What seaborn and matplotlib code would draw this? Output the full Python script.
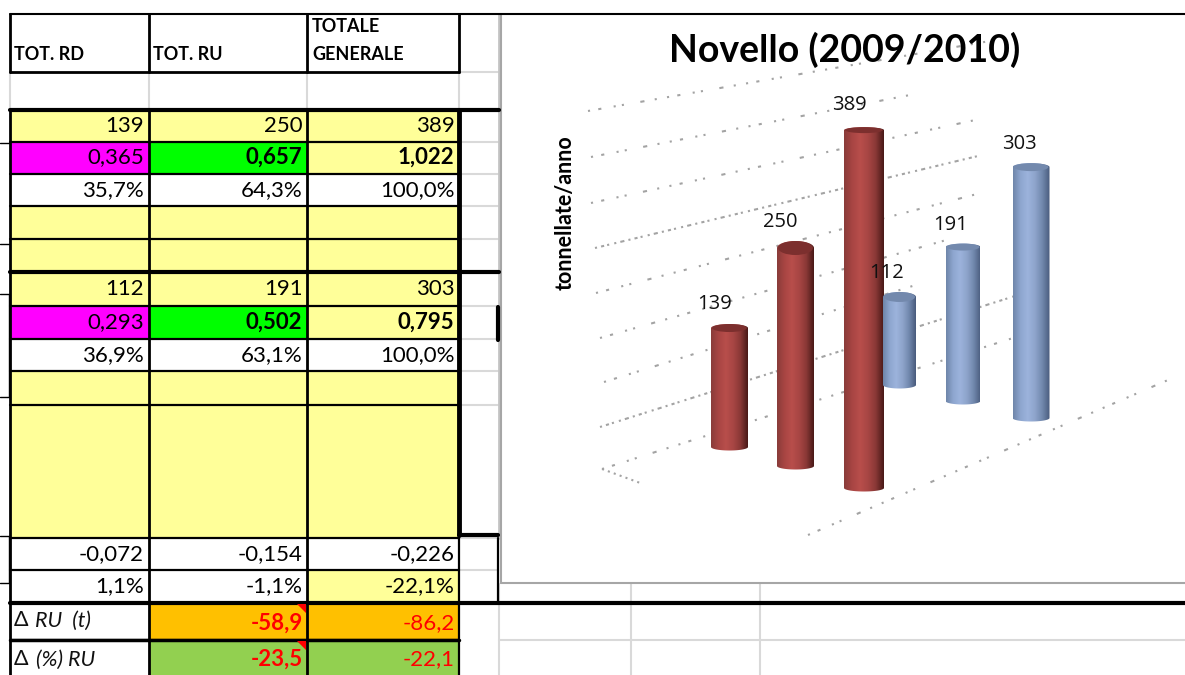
import numpy as np
import pandas as pd
import matplotlib.pyplot as plt
import seaborn as sns
from matplotlib.colors import LinearSegmentedColormap
from matplotlib.patches import Ellipse, Polygon, Rectangle

# Chart values
BAR_LABELS = ['RD 2009', 'RU 2009', 'TOT 2009', 'RD 2010', 'RU 2010', 'TOT 2010']
BAR_VALUES = [139, 250, 389, 112, 191, 303]
BAR_GROUPS = ['red', 'red', 'red', 'blue', 'blue', 'blue']
CHART_TITLE = 'Novello (2009/2010)'
CHART_YLABEL = 'tonnellate/anno'

# Table values, one list per row
ROW_1 = ['139', '250', '389']
ROW_2 = ['0,365', '0,657', '1,022']
ROW_3 = ['35,7%', '64,3%', '100,0%']
ROW_4 = ['', '', '']
ROW_5 = ['', '', '']
ROW_6 = ['112', '191', '303']
ROW_7 = ['0,293', '0,502', '0,795']
ROW_8 = ['36,9%', '63,1%', '100,0%']
ROW_9 = ['', '', '']
ROW_10 = ['', '', '']
ROW_11 = ['-0,072', '-0,154', '-0,226']
ROW_12 = ['1,1%', '-1,1%', '-22,1%']
ROW_13 = ['', '-58,9', '-86,2']
ROW_14 = ['', '-23,5', '-22,1']
ROWS = [ROW_1, ROW_2, ROW_3, ROW_4, ROW_5, ROW_6, ROW_7,
        ROW_8, ROW_9, ROW_10, ROW_11, ROW_12, ROW_13, ROW_14]

# Layout in screen pixels, not data
W, H = 1185, 675
COL_X = [10, 148.5, 307, 459]
ROW_Y = [110, 141.5, 173.5, 206, 239, 272, 305.5, 339, 371, 405, 538, 570, 603, 640, 675]
YEL, MAG, GRN, WHT, ORA, LIM = '#FFFF99', '#FF00FF', '#00FF00', '#FFFFFF', '#FFC000', '#92D050'
ROW_FILLS = [[YEL, YEL, YEL], [MAG, GRN, YEL], [WHT, WHT, WHT], [YEL, YEL, YEL], [YEL, YEL, YEL],
             [YEL, YEL, YEL], [MAG, GRN, YEL], [WHT, WHT, WHT], [YEL, YEL, YEL], [YEL, YEL, YEL],
             [WHT, WHT, WHT], [WHT, WHT, YEL], [WHT, ORA, ORA], [WHT, LIM, LIM]]
GRID_GREY = '#D9D9D9'

# center x, body width, base y, px per tonne, cap half height, label center
BAR_X = [729.5, 795.5, 864, 899.5, 963, 1031]
BAR_W = [37, 37, 40, 33, 35, 37]
BAR_BASE = [447, 466, 488, 385, 401, 418]
BAR_PPU = [0.856, 0.872, 0.92, 0.786, 0.806, 0.828]
BAR_CAP = [4, 7, 3, 5, 3.5, 4]
LABEL_X = [715, 780, 849, 887, 951, 1019]
LABEL_Y = [304, 222, 105, 273, 225, 144]

GRID_LEFT = [(588, 111), (591, 157), (591, 203), (595, 248), (596, 293), (600, 338), (604, 382), (600, 427), (602, 469)]
GRID_RIGHT = [(990, 41), (910, 95), (980, 119), (978, 156), (977, 194), (957, 237), (919, 284), (1015, 296), (1013, 338)]
SPARSE = (1, 4, 1.5, 6, 1, 3, 1, 8, 2, 5, 1, 5)
DENSE = (1, 2, 1.5, 1.5, 1, 2.5, 1, 2, 2, 2)
GRID_DASH = [SPARSE, SPARSE, SPARSE, DENSE, SPARSE, SPARSE, SPARSE, DENSE, SPARSE]

CMAPS = {
    'red': LinearSegmentedColormap.from_list('r', ['#8a3c3a', '#a84543', '#b84e4b', '#a84644', '#8a3836', '#4a1a18']),
    'blue': LinearSegmentedColormap.from_list('b', ['#6f86aa', '#8ea6cf', '#9cb3dc', '#8ea4cb', '#7188ad', '#4a5c7e']),
}
CAP_COLORS = {'red': '#7c2f2e', 'blue': '#7389ad'}


def draw_table(ax):
    # cell fills and text
    for r, row in enumerate(ROWS):
        y0, y1 = ROW_Y[r], ROW_Y[r + 1]
        for c, val in enumerate(row):
            ax.add_patch(Rectangle((COL_X[c], y0), COL_X[c + 1] - COL_X[c], y1 - y0,
                                   fc=ROW_FILLS[r][c], ec='none', zorder=1))
            bold = r in (1, 6) and c > 0 or r >= 12 and c == 1
            color = 'red' if r >= 12 else 'black'
            ax.text(COL_X[c + 1] - 4.5, (y0 + y1) / 2 + (2 if r >= 12 else 0), val, ha='right', va='center',
                    fontsize=16, color=color, fontweight='bold' if bold else 'normal', zorder=5)

    # comment markers
    for y in [603.5, 640.5]:
        ax.add_patch(Polygon([(297, y), (306, y), (306, y + 9)], fc='red', ec='none', zorder=4))

    # light sheet grid on the right of the table
    for y in [72, 141.5, 173.5, 206, 239, 306, 339, 371, 405, 538, 570]:
        ax.plot([459, 498], [y, y], color=GRID_GREY, lw=1.5, zorder=0)
    ax.plot([499, 499], [14, 538], color='#C4C4C4', lw=2, zorder=0)
    for x in COL_X:
        ax.plot([x, x], [72, 110], color=GRID_GREY, lw=1.5, zorder=0)
    ax.plot([10, 459], [72, 72], color='black', lw=2, zorder=3)
    for x in [499, 631, 760]:
        ax.plot([x, x], [584, 675], color=GRID_GREY, lw=1.5, zorder=0)
    ax.plot([499, W], [640, 640], color=GRID_GREY, lw=1.5, zorder=0)

    # black borders
    ax.plot([10, W], [14, 14], color='black', lw=1.5, zorder=3)
    for x in COL_X:
        ax.plot([x, x], [14, 72], color='black', lw=2, zorder=3)
    for y in ROW_Y[1:-1]:
        ax.plot([COL_X[0], COL_X[3]], [y, y], color='black', lw=1.6, zorder=3)
    for x in COL_X[:3]:
        ax.plot([x, x], [110, 675], color='black', lw=2, zorder=3)
    ax.plot([459, 459], [110, 535], color='black', lw=3.5, zorder=3)
    ax.plot([459, 459], [538, 675], color='black', lw=1.6, zorder=3)
    ax.plot([459, 498], [535, 535], color='black', lw=3, zorder=3)
    ax.plot([10, 499], [110, 110], color='black', lw=3, zorder=3)
    ax.plot([10, 499], [272, 272], color='black', lw=3, zorder=3)
    ax.plot([10, W], [603, 603], color='black', lw=3, zorder=3)
    ax.plot([10, 459], [640, 640], color='black', lw=2.5, zorder=3)
    ax.plot([498, 498], [538, 603], color='black', lw=1.6, zorder=3)
    ax.plot([497.5, 497.5], [307, 340], color='black', lw=3, zorder=3)

    # stubs left of the table
    for y in [143, 244, 294, 397, 536, 583]:
        ax.plot([0, 9], [y, y], color='black', lw=1, zorder=3)
    ax.plot([8.5, 8.5], [294, 397], color='black', lw=1, zorder=3)
    ax.plot([8.5, 8.5], [536, 583], color='black', lw=1, zorder=3)

    # headers
    head = dict(fontsize=13, fontweight='bold', va='center', ha='left', color='black', zorder=5)
    ax.text(14, 55, 'TOT. RD', **head)
    ax.text(153, 55, 'TOT. RU', **head)
    ax.text(312, 26, 'TOTALE', **head)
    ax.text(312, 55, 'GENERALE', **head)
    side = dict(fontsize=15.5, va='center', color='#111111', zorder=5)
    ax.text(14, 620, '\u0394', **side)
    ax.text(35, 621, 'RU  (t)', style='italic', **side)
    ax.text(14, 659, '\u0394', **side)
    ax.text(36, 660, '(%) RU', style='italic', **side)


def draw_chart_frame(ax):
    ax.plot([501, 501], [14, 583], color='#A6A6A6', lw=1.5, zorder=2)
    ax.plot([501, W], [583, 583], color='#A6A6A6', lw=1.5, zorder=2)
    for left, right, dash in zip(GRID_LEFT, GRID_RIGHT, GRID_DASH):
        ax.plot([left[0], right[0]], [left[1], right[1]], color='#A3A3A3', lw=1.5,
                linestyle=(0, dash), zorder=2)
    ax.plot([602, 643], [469, 484], color='#A3A3A3', lw=1.5, linestyle=(0, (1, 2)), zorder=2)
    ax.plot([808, 1175], [535, 377], color='#A3A3A3', lw=1.5, linestyle=(0, SPARSE), zorder=2)


def draw_bar(fig, i):
    # one small axes per cylinder, they all share the 0-420 tonne scale
    ppu = BAR_PPU[i]
    low, high = -20, 420
    left = (BAR_X[i] - BAR_W[i] / 2) / W
    bottom = 1 - (BAR_BASE[i] - low * ppu) / H
    ax = fig.add_axes([left, bottom, BAR_W[i] / W, (high - low) * ppu / H], zorder=2)

    df = pd.DataFrame({'bar': [BAR_LABELS[i]], 'value': [BAR_VALUES[i]]})
    sns.barplot(data=df, x='bar', y='value', width=1, color=CAP_COLORS[BAR_GROUPS[i]],
                saturation=1, ax=ax)
    ax.set_axis_off()
    ax.patch.set_alpha(0)

    height = ax.patches[0].get_height()
    ry = BAR_CAP[i] / ppu
    # capsule outline follows the bar height
    t = np.linspace(0, np.pi, 40)
    xs = np.r_[0.5 * np.cos(t), -0.5 * np.cos(t)]
    ys = np.r_[height + ry * np.sin(t), -(3.5 / ppu) * np.sin(t)]
    ax.patches[0].set_visible(False)
    outline = Polygon(np.c_[xs, ys], fc='none', ec='none')
    ax.add_patch(outline)
    img = ax.imshow(np.linspace(0, 1, 64).reshape(1, -1), cmap=CMAPS[BAR_GROUPS[i]], aspect='auto',
                    extent=[-0.5, 0.5, low, high], zorder=2)
    img.set_clip_path(outline)
    ax.add_patch(Ellipse((0, height), 0.94, 2 * ry, fc=CAP_COLORS[BAR_GROUPS[i]], ec='none', zorder=3))
    ax.set_xlim(-0.5, 0.5)
    ax.set_ylim(low, high)


def main():
    sns.set_theme(style='white')
    plt.rcParams['font.family'] = ['Lato', 'DejaVu Sans']

    fig = plt.figure(figsize=(W / 100, H / 100), dpi=100)
    fig.patch.set_facecolor('white')

    bg = fig.add_axes([0, 0, 1, 1], zorder=1)
    bg.set_xlim(0, W)
    bg.set_ylim(H, 0)
    bg.set_axis_off()
    draw_table(bg)
    draw_chart_frame(bg)

    for i in range(len(BAR_VALUES)):
        draw_bar(fig, i)

    top = fig.add_axes([0, 0, 1, 1], zorder=3)
    top.set_xlim(0, W)
    top.set_ylim(H, 0)
    top.set_axis_off()
    top.patch.set_alpha(0)
    top.text(845, 50, CHART_TITLE, fontsize=27, fontweight='bold', ha='center', va='center', color='black')
    top.text(565, 213, CHART_YLABEL, fontsize=15.5, fontweight='bold', rotation=90, ha='center', va='center',
             color='black')
    for x, y, val in zip(LABEL_X, LABEL_Y, BAR_VALUES):
        top.text(x, y, str(val), fontsize=14.5, ha='center', va='center',
                 family=['Open Sans', 'DejaVu Sans'], color='#111111')

    fig.savefig('out.png', dpi=100)


if __name__ == '__main__':
    main()
